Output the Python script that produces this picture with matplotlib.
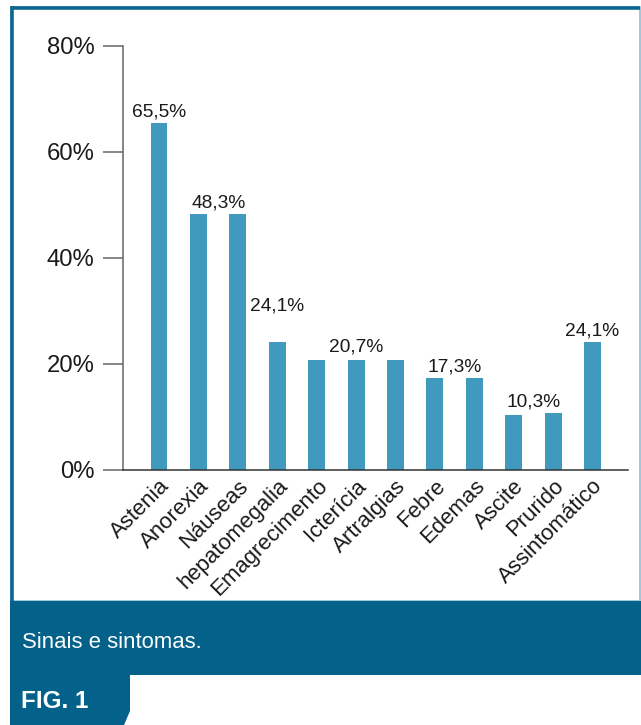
import matplotlib
matplotlib.use("Agg")
import matplotlib.pyplot as plt
from matplotlib import font_manager
from matplotlib.patches import Rectangle, Polygon

nomes = {f.name for f in font_manager.fontManager.ttflist}
if "Liberation Sans Narrow" in nomes:
    fonte, esc = "Liberation Sans Narrow", 1.0
else:
    fonte, esc = "Liberation Sans", 0.86
plt.rcParams['font.family'] = [fonte, 'DejaVu Sans']

# data
sintomas = ["Astenia", "Anorexia", "Náuseas", "hepatomegalia", "Emagrecimento",
            "Icterícia", "Artralgias", "Febre", "Edemas", "Ascite", "Prurido",
            "Assintomático"]
valores = [65.5, 48.3, 48.3, 24.1, 20.7, 20.7, 20.7, 17.3, 17.3, 10.3, 10.7, 24.1]
# (texto, barras que o rótulo cobre)
rotulos = [("65,5%", [0]), ("48,3%", [1, 2]), ("24,1%", [3]), ("20,7%", [5]),
           ("17,3%", [7, 8]), ("10,3%", [9, 10]), ("24,1%", [11])]
yticks = [0, 20, 40, 60, 80]
legenda = "Sinais e sintomas."
fig_txt = "FIG. 1"

W, H = 641, 725
fig = plt.figure(figsize=(W / 100, H / 100), dpi=100)

# background in pixel coords
bg = fig.add_axes([0, 0, 1, 1], zorder=0)
bg.set_xlim(0, W)
bg.set_ylim(H, 0)
bg.axis("off")
azul = "#03618a"
bg.add_patch(Rectangle((11, 7), 629, 594, facecolor="white", edgecolor="#8dbdd3", lw=1.2))
bg.plot([11, 640], [7.5, 7.5], color="#0d6890", lw=2.6, solid_capstyle="butt")
bg.plot([11.5, 11.5], [6, 601], color="#0d6890", lw=2.6, solid_capstyle="butt")
bg.add_patch(Rectangle((10, 601), 631, 74, facecolor=azul, edgecolor="none"))
bg.add_patch(Polygon([(10, 675), (130, 675), (130, 711), (124, 725), (10, 725)],
                     closed=True, facecolor=azul, edgecolor="none"))
bg.text(22, 643, legenda, color="white", fontsize=18.5 * esc, va="center", ha="left")
bg.text(21, 701, fig_txt, color="white", fontsize=17.5, fontweight="bold",
        va="center", ha="left")

# chart
ax = fig.add_axes([123 / W, 1 - 470 / H, (628 - 123) / W, 424 / H], zorder=1)
ax.patch.set_alpha(0)
x = list(range(len(sintomas)))
ax.bar(x, valores, width=0.43, color="#3f9abd", zorder=2)
ax.set_xlim(-0.914, 11.9)
ax.set_ylim(0, 80)
ax.set_yticks(yticks)
ax.set_yticklabels([f"{v}%" for v in yticks])
ax.tick_params(axis="y", length=14.5, width=1.1, color="#666666", pad=6,
               labelsize=20 * esc, labelcolor="#1a1a1a")
ax.tick_params(axis="x", length=0, pad=4)
ax.set_xticks(x)
ax.set_xticklabels(sintomas, rotation=45, ha="right", va="top",
                   rotation_mode="anchor", fontsize=18.5 * esc, color="#1a1a1a")
for s in ["top", "right"]:
    ax.spines[s].set_visible(False)
ax.spines["left"].set_color("#666666")
ax.spines["left"].set_linewidth(1.1)
ax.spines["bottom"].set_color("#333333")
ax.spines["bottom"].set_linewidth(1.1)

for texto, idx in rotulos:
    cx = sum(idx) / len(idx)
    topo = max(valores[i] for i in idx)
    dy = 8
    if idx == [3]:
        dy = 26
    elif idx == [5]:
        dy = 9.5
    ax.annotate(texto, (cx, topo), xytext=(0, dy), textcoords="offset points",
                ha="center", va="center", fontsize=16 * esc, color="#1a1a1a")

fig.savefig("out.png", dpi=100)
